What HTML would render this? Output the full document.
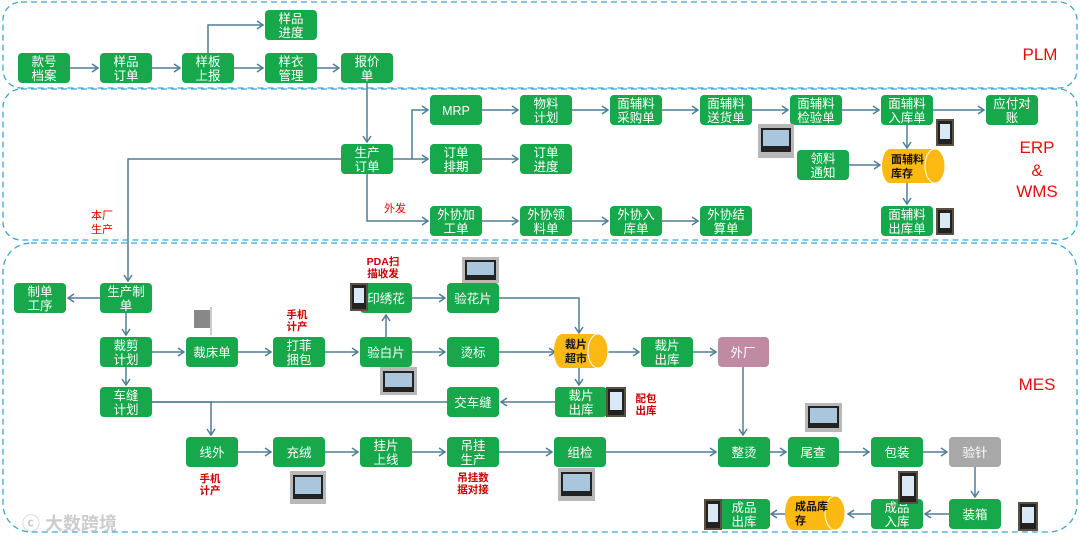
<!DOCTYPE html>
<html><head><meta charset="utf-8"><style>
body{margin:0;background:#fff}
svg{display:block;font-family:"Liberation Sans","Noto Sans CJK SC",sans-serif}
.b{fill:#16a84a}
.t{fill:#fff;font-size:12.5px;text-anchor:middle}
.k{fill:#111;font-size:11px;font-weight:bold}
.l{stroke:#4f7f96;stroke-width:1.5;fill:none}
.r{fill:#e00;font-size:11px}
.rb{fill:#c00;font-size:10.5px;font-weight:bold;text-anchor:middle}
.sec{fill:none;stroke:#3aa6d8;stroke-width:1.3;stroke-dasharray:6 4}
</style></head><body>
<svg width="1080" height="544" viewBox="0 0 1080 544">
<defs><marker id="m" markerWidth="8" markerHeight="10" refX="7" refY="5" orient="auto" markerUnits="userSpaceOnUse"><path d="M1,1 L7,5 L1,9" stroke="#4f7f96" stroke-width="1.5" fill="none"/></marker></defs>
<rect class="sec" x="3" y="2" width="1074" height="86" rx="18"/>
<rect class="sec" x="3" y="89" width="1074" height="151" rx="18"/>
<rect class="sec" x="3" y="243" width="1074" height="289" rx="28"/>
<text x="1040" y="60" fill="#e01010" font-size="17" text-anchor="middle">PLM</text>
<text x="1037" y="153" fill="#e01010" font-size="17" text-anchor="middle">ERP</text>
<text x="1037" y="176" fill="#e01010" font-size="17" text-anchor="middle">&amp;</text>
<text x="1037" y="197" fill="#e01010" font-size="17" text-anchor="middle">WMS</text>
<text x="1037" y="390" fill="#e01010" font-size="17" text-anchor="middle">MES</text>
<text class="r" x="91" y="219">本厂</text><text class="r" x="91" y="233">生产</text>
<text class="r" x="384" y="212">外发</text>
<text x="22" y="530" fill="#ccc" font-size="18" font-weight="bold">ⓒ 大数跨境</text>

<g marker-end="url(#m)">
<path class="l" d="M70,68H98"/><path class="l" d="M152,68H180"/><path class="l" d="M234,68H263"/><path class="l" d="M317,68H339"/>
<path class="l" d="M208,53V25H263"/>
<path class="l" d="M367,83V142"/>
<path class="l" d="M393,159H428"/><path class="l" d="M412,159V110H428"/>
<path class="l" d="M367,174V221H428"/>
<path class="l" d="M482,110H518"/><path class="l" d="M482,159H518"/><path class="l" d="M482,221H518"/>
<path class="l" d="M572,110H608"/><path class="l" d="M662,110H698"/><path class="l" d="M752,110H788"/><path class="l" d="M842,110H879"/><path class="l" d="M933,110H984"/>
<path class="l" d="M572,221H608"/><path class="l" d="M662,221H698"/>
<path class="l" d="M849,165H880"/>
<path class="l" d="M907,125V148"/><path class="l" d="M907,183V204"/>
<path class="l" d="M341,159H128V281"/>
<path class="l" d="M100,298H68"/>
<path class="l" d="M126,313V335"/><path class="l" d="M126,367V385"/>
<path class="l" d="M152,352H184"/><path class="l" d="M238,352H271"/><path class="l" d="M325,352H358"/><path class="l" d="M412,352H445"/>
<path class="l" d="M386,337V315"/>
<path class="l" d="M412,298H445"/>
<path class="l" d="M499,298H579V333"/>
<path class="l" d="M499,352H555"/>
<path class="l" d="M579,368V385"/>
<path class="l" d="M608,352H639"/><path class="l" d="M692,352H716"/>
<path class="l" d="M743,367V435"/>
<path class="l" d="M555,402H501"/>
<path class="l" d="M152,402H211V435"/>
<path class="l" d="M238,452H271"/><path class="l" d="M325,452H358"/><path class="l" d="M412,452H445"/><path class="l" d="M499,452H552"/>
<path class="l" d="M605,452H716"/><path class="l" d="M769,452H786"/><path class="l" d="M839,452H869"/><path class="l" d="M923,452H947"/>
<path class="l" d="M975,467V497"/>
<path class="l" d="M949,514H925"/><path class="l" d="M871,514H848"/><path class="l" d="M786,514H771"/>
</g>
<path class="l" d="M152,402H447"/>

<g>
<g><rect class="b" x="18" y="53" width="52" height="30" rx="4"/><text class="t" x="44" y="66">款号</text><text class="t" x="44" y="80">档案</text></g>
<g><rect class="b" x="100" y="53" width="52" height="30" rx="4"/><text class="t" x="126" y="66">样品</text><text class="t" x="126" y="80">订单</text></g>
<g><rect class="b" x="182" y="53" width="52" height="30" rx="4"/><text class="t" x="208" y="66">样板</text><text class="t" x="208" y="80">上报</text></g>
<g><rect class="b" x="265" y="53" width="52" height="30" rx="4"/><text class="t" x="291" y="66">样衣</text><text class="t" x="291" y="80">管理</text></g>
<g><rect class="b" x="341" y="53" width="52" height="30" rx="4"/><text class="t" x="367" y="66">报价</text><text class="t" x="367" y="80">单</text></g>
<g><rect class="b" x="265" y="10" width="52" height="30" rx="4"/><text class="t" x="291" y="23">样品</text><text class="t" x="291" y="37">进度</text></g>

<g><rect class="b" x="341" y="144" width="52" height="30" rx="4"/><text class="t" x="367" y="157">生产</text><text class="t" x="367" y="171">订单</text></g>
<g><rect class="b" x="430" y="95" width="52" height="30" rx="4"/><text class="t" x="456" y="115">MRP</text></g>
<g><rect class="b" x="430" y="144" width="52" height="30" rx="4"/><text class="t" x="456" y="157">订单</text><text class="t" x="456" y="171">排期</text></g>
<g><rect class="b" x="430" y="206" width="52" height="30" rx="4"/><text class="t" x="456" y="219">外协加</text><text class="t" x="456" y="233">工单</text></g>
<g><rect class="b" x="520" y="95" width="52" height="30" rx="4"/><text class="t" x="546" y="108">物料</text><text class="t" x="546" y="122">计划</text></g>
<g><rect class="b" x="520" y="144" width="52" height="30" rx="4"/><text class="t" x="546" y="157">订单</text><text class="t" x="546" y="171">进度</text></g>
<g><rect class="b" x="520" y="206" width="52" height="30" rx="4"/><text class="t" x="546" y="219">外协领</text><text class="t" x="546" y="233">料单</text></g>
<g><rect class="b" x="610" y="95" width="52" height="30" rx="4"/><text class="t" x="636" y="108">面辅料</text><text class="t" x="636" y="122">采购单</text></g>
<g><rect class="b" x="610" y="206" width="52" height="30" rx="4"/><text class="t" x="636" y="219">外协入</text><text class="t" x="636" y="233">库单</text></g>
<g><rect class="b" x="700" y="95" width="52" height="30" rx="4"/><text class="t" x="726" y="108">面辅料</text><text class="t" x="726" y="122">送货单</text></g>
<g><rect class="b" x="700" y="206" width="52" height="30" rx="4"/><text class="t" x="726" y="219">外协结</text><text class="t" x="726" y="233">算单</text></g>
<g><rect class="b" x="790" y="95" width="52" height="30" rx="4"/><text class="t" x="816" y="108">面辅料</text><text class="t" x="816" y="122">检验单</text></g>
<g><rect class="b" x="797" y="150" width="52" height="30" rx="4"/><text class="t" x="823" y="163">领料</text><text class="t" x="823" y="177">通知</text></g>
<g><rect class="b" x="881" y="95" width="52" height="30" rx="4"/><text class="t" x="907" y="108">面辅料</text><text class="t" x="907" y="122">入库单</text></g>
<g><rect class="b" x="881" y="206" width="52" height="30" rx="4"/><text class="t" x="907" y="219">面辅料</text><text class="t" x="907" y="233">出库单</text></g>
<g><rect class="b" x="986" y="95" width="52" height="30" rx="4"/><text class="t" x="1012" y="108">应付对</text><text class="t" x="1012" y="122">账</text></g>
<g><path d="M890,149H935A10,17 0 0 1 935,183H890A8,17 0 0 1 890,149Z" fill="#fdb913"/><ellipse cx="935" cy="166" rx="10" ry="17" fill="#fdb913" stroke="#fff"/><text class="k" x="891" y="163">面辅料</text><text class="k" x="891" y="177">库存</text></g>

<g><rect class="b" x="14" y="283" width="52" height="30" rx="4"/><text class="t" x="40" y="296">制单</text><text class="t" x="40" y="310">工序</text></g>
<g><rect class="b" x="100" y="283" width="52" height="30" rx="4"/><text class="t" x="126" y="296">生产制</text><text class="t" x="126" y="310">单</text></g>
<g><rect class="b" x="100" y="337" width="52" height="30" rx="4"/><text class="t" x="126" y="350">裁剪</text><text class="t" x="126" y="364">计划</text></g>
<g><rect class="b" x="100" y="387" width="52" height="30" rx="4"/><text class="t" x="126" y="400">车缝</text><text class="t" x="126" y="414">计划</text></g>
<g><rect class="b" x="186" y="337" width="52" height="30" rx="4"/><text class="t" x="212" y="357">裁床单</text></g>
<g><rect class="b" x="273" y="337" width="52" height="30" rx="4"/><text class="t" x="299" y="350">打菲</text><text class="t" x="299" y="364">捆包</text></g>
<g><rect class="b" x="360" y="337" width="52" height="30" rx="4"/><text class="t" x="386" y="357">验白片</text></g>
<g><rect class="b" x="360" y="283" width="52" height="30" rx="4"/><text class="t" x="386" y="303">印绣花</text></g>
<g><rect class="b" x="447" y="283" width="52" height="30" rx="4"/><text class="t" x="473" y="303">验花片</text></g>
<g><rect class="b" x="447" y="337" width="52" height="30" rx="4"/><text class="t" x="473" y="357">烫标</text></g>
<g><rect class="b" x="447" y="387" width="52" height="30" rx="4"/><text class="t" x="473" y="407">交车缝</text></g>
<g><path d="M562,334H598A10,17 0 0 1 598,368H562A8,17 0 0 1 562,334Z" fill="#fdb913"/><ellipse cx="598" cy="351" rx="10" ry="17" fill="#fdb913" stroke="#fff"/><text class="k" x="565" y="348">裁片</text><text class="k" x="565" y="362">超市</text></g>
<g><rect class="b" x="555" y="387" width="52" height="30" rx="4"/><text class="t" x="581" y="400">裁片</text><text class="t" x="581" y="414">出库</text></g>
<g><rect class="b" x="641" y="337" width="52" height="30" rx="4"/><text class="t" x="667" y="350">裁片</text><text class="t" x="667" y="364">出库</text></g>
<g><rect x="718" y="337" width="51" height="30" rx="4" fill="#c08aa3"/><text class="t" x="743" y="357">外厂</text></g>
<g><rect class="b" x="186" y="437" width="52" height="30" rx="4"/><text class="t" x="212" y="457">线外</text></g>
<g><rect class="b" x="273" y="437" width="52" height="30" rx="4"/><text class="t" x="299" y="457">充绒</text></g>
<g><rect class="b" x="360" y="437" width="52" height="30" rx="4"/><text class="t" x="386" y="450">挂片</text><text class="t" x="386" y="464">上线</text></g>
<g><rect class="b" x="447" y="437" width="52" height="30" rx="4"/><text class="t" x="473" y="450">吊挂</text><text class="t" x="473" y="464">生产</text></g>
<g><rect class="b" x="554" y="437" width="52" height="30" rx="4"/><text class="t" x="580" y="457">组检</text></g>
<g><rect class="b" x="718" y="437" width="52" height="30" rx="4"/><text class="t" x="744" y="457">整烫</text></g>
<g><rect class="b" x="788" y="437" width="51" height="30" rx="4"/><text class="t" x="813" y="457">尾查</text></g>
<g><rect class="b" x="871" y="437" width="52" height="30" rx="4"/><text class="t" x="897" y="457">包装</text></g>
<g><rect x="949" y="437" width="52" height="30" rx="4" fill="#a8a8a8"/><text class="t" x="975" y="457">验针</text></g>
<g><rect class="b" x="949" y="499" width="52" height="30" rx="4"/><text class="t" x="975" y="519">装箱</text></g>
<g><rect class="b" x="871" y="499" width="52" height="30" rx="4"/><text class="t" x="897" y="512">成品</text><text class="t" x="897" y="526">入库</text></g>
<g><path d="M793,496H835A10,17 0 0 1 835,530H793A8,17 0 0 1 793,496Z" fill="#fdb913"/><ellipse cx="835" cy="513" rx="10" ry="17" fill="#fdb913" stroke="#fff"/><text class="k" x="795" y="510">成品库</text><text class="k" x="795" y="524">存</text></g>
<g><rect class="b" x="718" y="499" width="52" height="30" rx="4"/><text class="t" x="744" y="512">成品</text><text class="t" x="744" y="526">出库</text></g>
</g>

<text class="rb" x="383" y="265">PDA扫</text><text class="rb" x="383" y="277">描收发</text>
<text class="rb" x="297" y="318">手机</text><text class="rb" x="297" y="330">计产</text>
<text class="rb" x="210" y="482">手机</text><text class="rb" x="210" y="494">计产</text>
<text class="rb" x="473" y="481">吊挂数</text><text class="rb" x="473" y="493">据对接</text>
<text class="rb" x="646" y="402">配包</text><text class="rb" x="646" y="414">出库</text>

<g fill="#b8b8b8">
<rect x="758" y="124" width="36" height="34"/><rect x="462" y="257" width="37" height="26"/><rect x="380" y="367" width="37" height="28"/>
<rect x="290" y="471" width="36" height="33"/><rect x="558" y="468" width="37" height="33"/><rect x="805" y="403" width="37" height="29"/>
</g>
<g fill="#222"><rect x="761" y="128" width="30" height="24"/><rect x="465" y="260" width="31" height="20"/><rect x="383" y="371" width="31" height="21"/><rect x="293" y="475" width="30" height="24"/><rect x="561" y="472" width="31" height="24"/><rect x="808" y="406" width="31" height="22"/></g>
<g fill="#a9c6dc"><rect x="763" y="130" width="26" height="16"/><rect x="467" y="262" width="27" height="13"/><rect x="385" y="373" width="27" height="14"/><rect x="295" y="477" width="26" height="17"/><rect x="563" y="474" width="27" height="17"/><rect x="810" y="408" width="27" height="15"/></g>
<g fill="#5a5040">
<rect x="936" y="119" width="18" height="27"/><rect x="936" y="208" width="18" height="27"/><rect x="350" y="283" width="18" height="28"/>
<rect x="606" y="387" width="20" height="30"/><rect x="898" y="471" width="20" height="33"/><rect x="1018" y="502" width="20" height="29"/><rect x="704" y="499" width="18" height="31"/>
</g>
<g fill="#222">
<rect x="938" y="121" width="14" height="23"/><rect x="938" y="210" width="14" height="23"/><rect x="352" y="285" width="14" height="24"/>
<rect x="608" y="389" width="16" height="26"/><rect x="900" y="473" width="16" height="29"/><rect x="1020" y="504" width="16" height="25"/><rect x="706" y="501" width="14" height="27"/>
</g>
<g fill="#d8e8f5"><rect x="940" y="124" width="10" height="15"/><rect x="940" y="213" width="10" height="15"/><rect x="354" y="288" width="10" height="15"/><rect x="610" y="392" width="12" height="18"/><rect x="902" y="476" width="12" height="20"/><rect x="1022" y="507" width="12" height="16"/><rect x="708" y="504" width="10" height="18"/></g>
<rect x="194" y="310" width="16" height="18" fill="#888"/>
<line x1="211" y1="307" x2="211" y2="335" stroke="#999"/>
</svg>
</body></html>
